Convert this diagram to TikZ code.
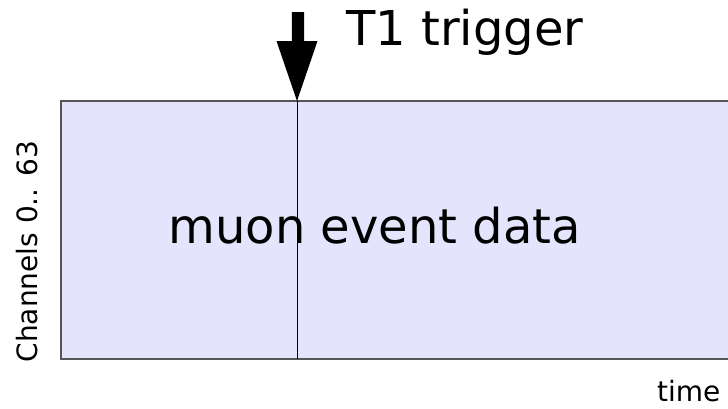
\documentclass[tikz,border=0pt]{standalone}
\usepackage{fontspec}
\setmainfont{DejaVu Sans}
\definecolor{datafill}{RGB}{228,228,252}
\definecolor{dataedge}{RGB}{85,85,90}
\begin{document}
\begin{tikzpicture}[x=1pt,y=-1pt,
  bigtext/.style={inner sep=0pt,anchor=base west,font=\fontsize{48}{58}\selectfont},
  smalltext/.style={inner sep=0pt,anchor=base west,font=\fontsize{28}{34}\selectfont},
  boxedge/.style={draw=dataedge,line width=1.6pt},
  markerline/.style={draw=black,line width=0.9pt}]
\useasboundingbox (0,0) rectangle (728,408);
\clip (0,0) rectangle (728,408);
% data window, open towards later times
\fill[datafill] (61,101) rectangle (745,359);
\draw[boxedge] (745,101) -- (61,101) -- (61,359) -- (745,359);
% trigger instant
\coordinate (trigtop) at (297,101);
\coordinate (trigbot) at (297,359);
\draw[markerline] (trigtop) -- (trigbot);
% trigger arrow
\fill[black] (291.8,12) -- (304,12) -- (304,41) -- (317.5,41) -- (trigtop) -- (276.5,41) -- (291.8,41) -- cycle;
% labels
\node[bigtext] (trig) at (346,45) {T1 trigger};
\node[bigtext] (data) at (168.5,243) {muon event data};
\node[smalltext] (time) at (657,401) {time};
\node[smalltext,rotate=90] (chan) at (37,362.5) {Channels 0.. 63};
\end{tikzpicture}
\end{document}
